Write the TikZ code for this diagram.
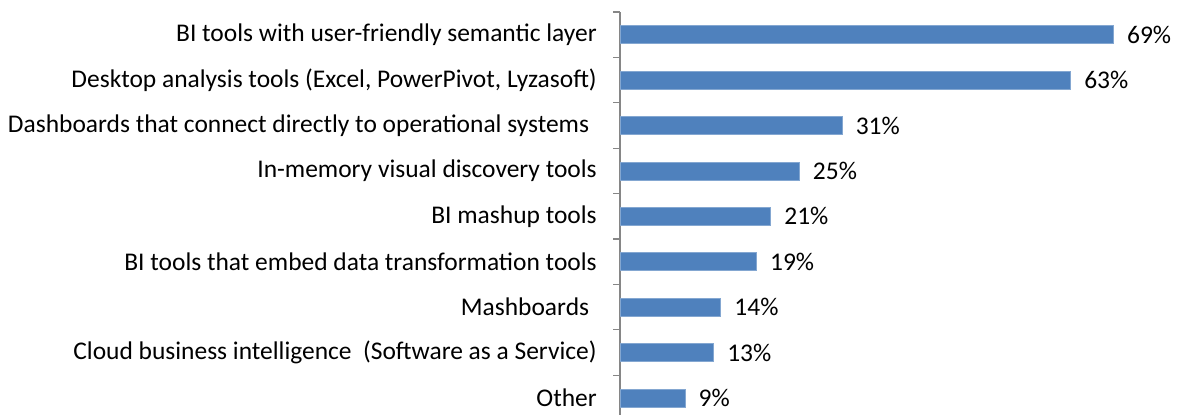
\documentclass[tikz,border=0pt]{standalone}
\usepackage{fontspec}
\setmainfont{Carlito}
\definecolor{barblue}{HTML}{4F81BD}
\definecolor{axisgray}{HTML}{868686}
\begin{document}
\begin{tikzpicture}[x=0.75pt,y=-0.75pt,
  bar/.style={fill=barblue,draw=barblue!70!white,line width=0.5pt},
  cat/.style={anchor=east,inner sep=0pt,font=\fontsize{19.1pt}{22pt}\selectfont},
  val/.style={anchor=west,inner sep=0pt,font=\fontsize{19.1pt}{22pt}\selectfont},
  axisline/.style={draw=axisgray,line width=1pt}]
\useasboundingbox (0,0) rectangle (1184,415);
% vertical category axis with tick marks between categories
\draw[axisline] (620,12) -- (620,415);
\foreach \k in {0,...,8}
  \draw[axisline] (613,12+45.4*\k) -- (620,12+45.4*\k);
% bars: value, category label, row index
\foreach \v/\t [count=\i from 0] in {
  69/{BI tools with user-friendly semantic layer},
  63/{Desktop analysis tools (Excel, PowerPivot, Lyzasoft)},
  31/{Dashboards that connect directly to operational systems\kern0.3em},
  25/{In-memory visual discovery tools},
  21/{BI mashup tools},
  19/{BI tools that embed data transformation tools},
  14/{Mashboards\kern0.3em},
  13/{Cloud business intelligence\hspace{0.226em} (Software as a Service)},
  9/{Other}} {
  \pgfmathsetmacro{\yc}{34.7+45.4*\i}
  \pgfmathsetmacro{\xe}{620.7+7.14*\v}
  \path[bar] (620.7,\yc-9) rectangle (\xe,\yc+9);
  \node[cat] (c\i) at (597,\yc) {\t};
  \node[val] (v\i) at (\xe+13.5,\yc) {\v\%};
}
\end{tikzpicture}
\end{document}
